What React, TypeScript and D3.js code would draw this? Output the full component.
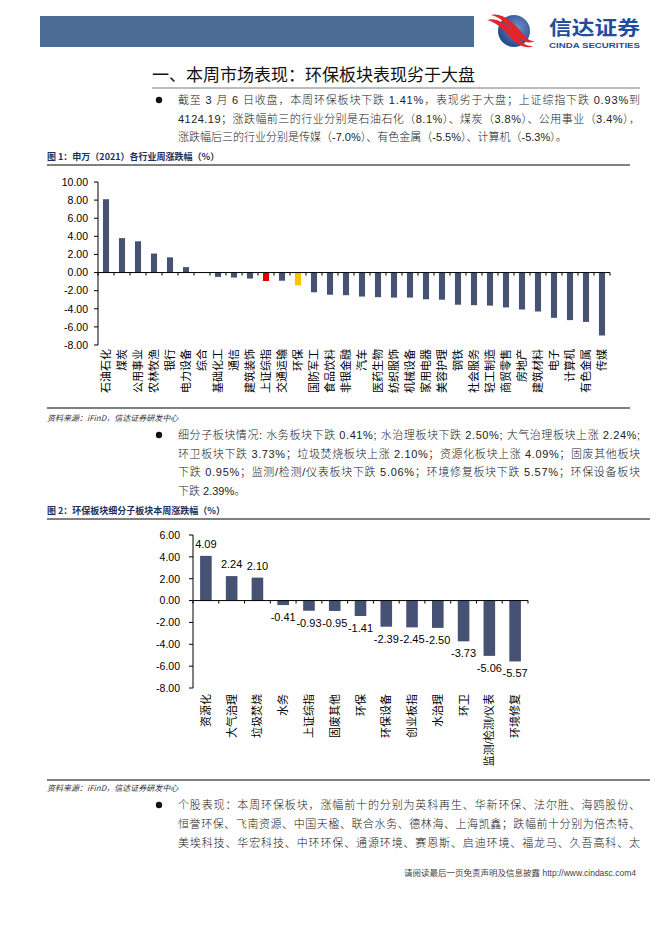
import React from "react";
import * as d3 from "d3";

const industries = ["石油石化","煤炭","公用事业","农林牧渔","银行","电力设备","综合","基础化工","通信","建筑装饰","上证综指","交通运输","环保","国防军工","食品饮料","非银金融","汽车","医药生物","纺织服饰","机械设备","家用电器","美容护理","钢铁","社会服务","轻工制造","商贸零售","房地产","建筑材料","电子","计算机","有色金属","传媒"];
const industryChanges = [8.1,3.8,3.45,2.1,1.68,0.6,0.02,-0.48,-0.55,-0.66,-0.93,-0.9,-1.41,-2.18,-2.45,-2.5,-2.65,-2.72,-2.76,-2.76,-2.95,-3.0,-3.55,-3.6,-3.65,-3.85,-4.08,-4.3,-5.0,-5.25,-5.45,-6.95];
const industryTicks = [10,8,6,4,2,0,-2,-4,-6,-8];

const subSectors = ["资源化","大气治理","垃圾焚烧","水务","上证综指","固废其他","环保","环保设备","创业板指","水治理","环卫","监测/检测/仪表","环境修复"];
const subChanges = [4.09,2.24,2.10,-0.41,-0.93,-0.95,-1.41,-2.39,-2.45,-2.50,-3.73,-5.06,-5.57];
const subTicks = [6,4,2,0,-2,-4,-6,-8];

const para1 = [
  "截至 3 月 6 日收盘，本周环保板块下跌 1.41%，表现劣于大盘；上证综指下跌 0.93%到",
  "4124.19；涨跌幅前三的行业分别是石油石化（8.1%）、煤炭（3.8%）、公用事业（3.4%），",
  "涨跌幅后三的行业分别是传媒（-7.0%）、有色金属（-5.5%）、计算机（-5.3%）。",
];
const para2 = [
  "细分子板块情况: 水务板块下跌 0.41%; 水治理板块下跌 2.50%; 大气治理板块上涨 2.24%;",
  "环卫板块下跌 3.73%；垃圾焚烧板块上涨 2.10%；资源化板块上涨 4.09%；固废其他板块",
  "下跌 0.95%；监测/检测/仪表板块下跌 5.06%；环境修复板块下跌 5.57%；环保设备板块",
  "下跌 2.39%。",
];
const para3 = [
  "个股表现：本周环保板块，涨幅前十的分别为英科再生、华新环保、法尔胜、海鸥股份、",
  "恒誉环保、飞南资源、中国天楹、联合水务、德林海、上海凯鑫；跌幅前十分别为倍杰特、",
  "美埃科技、华宏科技、中环环保、通源环境、赛恩斯、启迪环境、福龙马、久吾高科、太",
];

const FONT = "'Liberation Sans', Arial, 'Noto Sans CJK SC', sans-serif";
const BODY = "'Liberation Sans', Arial, 'Noto Sans CJK SC', sans-serif";
const BAR = "#465273";

function Paragraph({ lines, x, y0, dy, full }: { lines: string[]; x: number; y0: number; dy: number; full: boolean[] }) {
  return (
    <g>
      <circle cx={x - 19} cy={y0 - 4} r={3.2} fill="#111" />
      {lines.map((l, i) => (
        <text key={i} x={x} y={y0 + i * dy} fontSize={11} fontFamily={BODY} fill="#222" fontWeight={300}
          {...(full[i] ? { textLength: 462, lengthAdjust: "spacing" } : {})}>{l}</text>
      ))}
    </g>
  );
}

function Chart1() {
  const x = d3.scaleBand<string>().domain(industries).range([98, 610]).padding(0);
  const y = d3.scaleLinear().domain([-8, 10]).range([345, 182]);
  const bw = x.bandwidth() * 0.38;
  const colorOf = (c: string) => (c === "上证综指" ? "#E00000" : c === "环保" ? "#FFC000" : BAR);
  return (
    <g fontFamily={FONT}>
      <line x1={98} x2={98} y1={y(10)} y2={y(-8)} stroke="#000" />
      {industryTicks.map((t) => (
        <g key={t}>
          <line x1={94} x2={98} y1={y(t)} y2={y(t)} stroke="#000" />
          <text x={88} y={y(t) + 3.8} textAnchor="end" fontSize={10.5} fill="#000">{t.toFixed(2)}</text>
        </g>
      ))}
      {industries.map((c, i) => {
        const v = industryChanges[i];
        const cx = (x(c) as number) + x.bandwidth() / 2;
        return (
          <g key={c}>
            <rect x={cx - bw / 2} width={bw} y={Math.min(y(v), y(0))} height={Math.abs(y(v) - y(0))} fill={colorOf(c)} />
            <text transform={`translate(${cx + 4},349) rotate(-90)`} textAnchor="end" fontSize={11} fill="#000">{c}</text>
          </g>
        );
      })}
      <line x1={98} x2={610} y1={y(0)} y2={y(0)} stroke="#000" />
      {industries.map((c) => (
        <line key={c} x1={x(c) as number} x2={x(c) as number} y1={y(0)} y2={y(0) + 3} stroke="#000" />
      ))}
      <line x1={610} x2={610} y1={y(0)} y2={y(0) + 3} stroke="#000" />
    </g>
  );
}

function Chart2() {
  const x = d3.scaleBand<string>().domain(subSectors).range([193, 528]).padding(0);
  const y = d3.scaleLinear().domain([-8, 6]).range([688, 535]);
  const bw = x.bandwidth() * 0.45;
  return (
    <g fontFamily={FONT}>
      <line x1={193} x2={193} y1={y(6)} y2={y(-8)} stroke="#000" />
      {subTicks.map((t) => (
        <g key={t}>
          <line x1={189} x2={193} y1={y(t)} y2={y(t)} stroke="#000" />
          <text x={180} y={y(t) + 3.8} textAnchor="end" fontSize={10.5} fill="#000">{t.toFixed(2)}</text>
        </g>
      ))}
      {subSectors.map((c, i) => {
        const v = subChanges[i];
        const cx = (x(c) as number) + x.bandwidth() / 2;
        return (
          <g key={c}>
            <rect x={cx - bw / 2} width={bw} y={Math.min(y(v), y(0))} height={Math.abs(y(v) - y(0))} fill={BAR} />
            <text x={cx} y={v >= 0 ? y(v) - 8 : y(v) + 16} textAnchor="middle" fontSize={11} fill="#000">{v.toFixed(2)}</text>
            <text transform={`translate(${cx + 4},694) rotate(-90)`} textAnchor="end" fontSize={11} fill="#000">{c}</text>
          </g>
        );
      })}
      <line x1={193} x2={528} y1={y(0)} y2={y(0)} stroke="#000" />
      {subSectors.map((c) => (
        <line key={c} x1={x(c) as number} x2={x(c) as number} y1={y(0)} y2={y(0) + 3} stroke="#000" />
      ))}
      <line x1={528} x2={528} y1={y(0)} y2={y(0) + 3} stroke="#000" />
    </g>
  );
}

export default function App() {
  return (
    <svg width={662} height={936} viewBox="0 0 662 936" style={{ position: "absolute", left: 0, top: 0, background: "#fff" }}>
      <rect width={662} height={936} fill="#fff" />
      {/* header */}
      <rect x={40} y={16} width={434} height={31} fill="#4B6D95" />
      <defs>
        <radialGradient id="lg" cx="0.6" cy="0.4" r="0.7">
          <stop offset="0" stopColor="#6f8fc6" />
          <stop offset="1" stopColor="#1d3f86" />
        </radialGradient>
      </defs>
      <circle cx={514} cy={31} r={16} fill="url(#lg)" />
      <path d="M487,20 C500,16 512,30 520,40 C524,45 530,47 534,46 C526,50 516,44 510,37 C503,29 496,22 487,20 Z" fill="#E0262B" />
      <path d="M491,15 C504,12 516,25 524,35 C528,40 532,42 535,41 C528,45 520,40 514,33 C507,24 500,17 491,15 Z" fill="#E0262B" />
      <text x={549} y={35} fontSize={19.5} fontWeight={700} fill="#1F4E9E" fontFamily="'Noto Sans CJK SC', sans-serif" textLength={91} lengthAdjust="spacingAndGlyphs">信达证券</text>
      <text x={549} y={48} fontSize={7.4} fontWeight={700} fill="#1F4E9E" fontFamily={FONT} textLength={91} lengthAdjust="spacingAndGlyphs">CINDA SECURITIES</text>

      {/* section title */}
      <text x={152} y={81} fontSize={17} fill="#111" fontFamily="'Noto Sans CJK SC', sans-serif">一、本周市场表现：环保板块表现劣于大盘</text>
      <line x1={152} x2={640} y1={88} y2={88} stroke="#555" strokeWidth={0.8} />

      <Paragraph lines={para1} x={178} y0={104} dy={18.5} full={[true, true, false]} />

      <text x={47} y={160} fontSize={9} fontWeight={700} fill="#1c2f5e" fontFamily="'Noto Sans CJK SC', sans-serif">图 1：申万（2021）各行业周涨跌幅（%）</text>
      <line x1={47} x2={630} y1={165} y2={165} stroke="#000" strokeWidth={1} />
      <Chart1 />
      <line x1={47} x2={630} y1={408} y2={408} stroke="#000" strokeWidth={1} />
      <text x={47} y={421} fontSize={8} fontStyle="italic" fill="#333" fontFamily="'Noto Sans CJK SC', sans-serif">资料来源：iFinD，信达证券研发中心</text>

      <Paragraph lines={para2} x={178} y0={439} dy={18.7} full={[true, true, true, false]} />

      <text x={47} y={514} fontSize={9} fontWeight={700} fill="#1c2f5e" fontFamily="'Noto Sans CJK SC', sans-serif">图 2：环保板块细分子板块本周涨跌幅（%）</text>
      <line x1={47} x2={650} y1={519} y2={519} stroke="#000" strokeWidth={1} />
      <Chart2 />
      <line x1={47} x2={650} y1={780} y2={780} stroke="#000" strokeWidth={1} />
      <text x={47} y={791} fontSize={8} fontStyle="italic" fill="#333" fontFamily="'Noto Sans CJK SC', sans-serif">资料来源：iFinD，信达证券研发中心</text>

      <Paragraph lines={para3} x={178} y0={809} dy={19} full={[true, true, true]} />

      <text x={636} y={876} textAnchor="end" fontSize={8.5} fill="#444" fontFamily={FONT}>请阅读最后一页免责声明及信息披露 http://www.cindasc.com4</text>
    </svg>
  );
}
